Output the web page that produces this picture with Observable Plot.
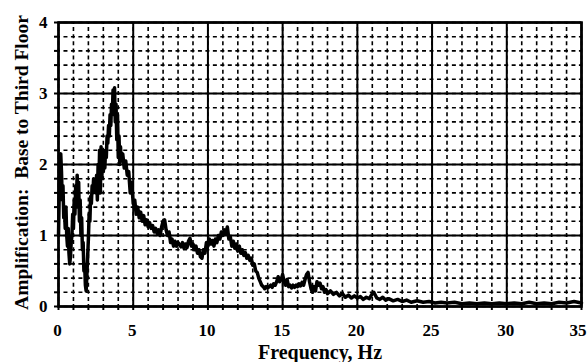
<!DOCTYPE html>
<html><head><meta charset="utf-8">
<script src="https://cdn.jsdelivr.net/npm/d3@7"></script>
<script src="https://cdn.jsdelivr.net/npm/@observablehq/plot@0.6"></script>
<style>body{margin:0;background:#fff} svg{display:block}</style>
</head><body><div id="chart"></div>
<script>
const freq = [0.0,0.05,0.1,0.15,0.2,0.25,0.3,0.35,0.4,0.45,0.5,0.55,0.6,0.65,0.7,0.75,0.8,0.85,0.9,0.95,
1.0,1.05,1.1,1.15,1.2,1.25,1.3,1.35,1.4,1.45,1.5,1.55,1.6,1.65,1.7,1.75,1.8,1.85,1.9,1.95,
2.0,2.05,2.1,2.15,2.2,2.25,2.3,2.35,2.4,2.45,2.5,2.55,2.6,2.65,2.7,2.75,2.8,2.85,2.9,2.95,
3.0,3.05,3.1,3.15,3.2,3.25,3.3,3.35,3.4,3.45,3.5,3.55,3.6,3.65,3.7,3.75,3.8,3.85,3.9,3.95,
4.0,4.05,4.1,4.15,4.2,4.3,4.4,4.5,4.6,4.7,4.8,4.9,5.0,5.1,5.2,5.3,5.4,5.5,5.6,5.7,5.8,5.9,
6.0,6.1,6.2,6.3,6.4,6.5,6.6,6.7,6.8,6.9,7.0,7.1,7.2,7.3,7.4,7.5,7.6,7.7,7.8,7.9,
8.0,8.2,8.3,8.4,8.5,8.6,8.7,8.8,8.9,9.0,9.1,9.2,9.3,9.4,9.5,9.6,9.7,9.8,9.9,
10.0,10.1,10.2,10.3,10.4,10.5,10.6,10.7,10.8,10.9,11.0,11.1,11.2,11.3,11.4,11.5,11.6,11.7,11.8,11.9,
12.0,12.1,12.2,12.3,12.4,12.5,12.6,12.7,12.8,12.9,13.0,13.1,13.2,13.3,13.4,13.5,13.6,13.7,13.8,13.9,
14.0,14.2,14.3,14.4,14.5,14.6,14.7,14.8,14.9,15.0,15.1,15.2,15.3,15.4,15.5,15.6,15.7,15.8,15.9,
16.0,16.1,16.2,16.3,16.4,16.5,16.6,16.7,16.8,16.9,17.0,17.1,17.2,17.3,17.4,17.5,17.6,17.7,17.8,17.9,
18.0,18.2,18.4,18.6,18.8,19.0,19.2,19.4,19.6,19.8,20.0,20.2,20.4,20.6,20.8,21.0,21.1,21.3,21.5,21.7,21.9,
22.1,22.4,22.7,23.0,23.3,23.6,24.0,24.4,24.8,25.2,25.6,26.0,26.5,27.0,27.5,28.0,28.5,29.0,29.5,
30.0,30.5,31.0,31.5,32.0,32.5,33.0,33.5,34.0,34.5,35.0];
const amp = [1.0,1.6,2.1,2.15,1.9,1.5,1.7,1.25,1.35,1.1,1.4,1.0,0.85,1.1,0.75,0.6,0.7,0.9,1.0,1.3,
1.1,1.5,1.3,1.7,1.55,1.85,1.4,1.75,1.2,1.5,1.0,1.25,0.8,0.9,0.5,0.6,0.3,0.22,0.45,0.7,
0.95,1.3,1.2,1.55,1.45,1.7,1.6,1.8,1.65,1.75,1.6,1.85,1.5,2.0,1.7,2.2,1.6,2.25,1.8,2.2,
1.9,2.1,1.95,2.2,2.1,2.4,2.3,2.55,2.4,2.7,2.55,2.85,2.7,3.05,2.9,3.08,2.6,2.85,2.35,2.7,
2.1,2.4,2.0,2.25,2.05,2.15,1.95,2.05,1.85,1.9,1.6,1.75,1.45,1.5,1.3,1.4,1.25,1.33,1.2,1.28,1.15,1.22,
1.12,1.18,1.1,1.14,1.05,1.1,1.03,1.08,1.0,1.12,1.2,1.22,1.08,1.0,1.05,0.9,0.95,0.85,0.92,0.85,
0.9,0.84,0.9,0.82,0.88,0.83,0.92,0.96,0.85,0.88,0.8,0.85,0.75,0.8,0.7,0.68,0.8,0.75,0.9,
0.85,0.95,0.88,0.93,0.85,0.95,0.9,1.0,0.95,1.05,1.0,1.08,1.02,1.12,0.95,0.98,0.85,0.92,0.82,0.88,
0.78,0.85,0.75,0.8,0.72,0.76,0.68,0.72,0.65,0.68,0.58,0.6,0.5,0.48,0.4,0.35,0.3,0.28,0.25,0.28,
0.26,0.3,0.27,0.32,0.3,0.35,0.42,0.35,0.38,0.45,0.35,0.3,0.38,0.28,0.3,0.26,0.3,0.27,0.3,
0.28,0.32,0.29,0.34,0.3,0.38,0.45,0.48,0.35,0.25,0.2,0.28,0.22,0.35,0.3,0.33,0.25,0.28,0.2,0.24,
0.18,0.22,0.17,0.2,0.15,0.18,0.13,0.16,0.12,0.15,0.12,0.14,0.1,0.13,0.11,0.18,0.2,0.12,0.1,0.13,0.09,
0.11,0.08,0.1,0.07,0.09,0.06,0.08,0.06,0.07,0.05,0.06,0.05,0.06,0.04,0.05,0.04,0.05,0.04,0.05,
0.04,0.05,0.04,0.06,0.04,0.05,0.04,0.06,0.05,0.07,0.05];

const xMajorTicks = [0, 5, 10, 15, 20, 25, 30, 35];
const xMinorTicks = [0,1,2,3,4,5,6,7,8,9,10,11,12,13,14,15,16,17,18,19,20,21,22,23,24,25,26,27,28,29,30,31,32,33,34,35];
const yMajorTicks = [0, 1, 2, 3, 4];
const yMinorTicks = [0,0.2,0.4,0.6,0.8,1,1.2,1.4,1.6,1.8,2,2.2,2.4,2.6,2.8,3,3.2,3.4,3.6,3.8,4];

const xLabel = "Frequency, Hz";
const yLabel = "Amplification:\u00a0\u00a0Base to Third Floor";

const data = freq.map((f, i) => ({f, a: amp[i]}));

const W = 588, H = 362, ML = 58, MR = 7, MT = 22, MB = 56;
const cellX = (W - ML - MR) / 35 / 2;
const cellY = (H - MT - MB) / 4 * 0.2 / 2;
const font = "'Liberation Serif', 'Times New Roman', serif";
const fmt = d => String(d);

const chart = Plot.plot({
  width: W, height: H,
  marginLeft: ML, marginRight: MR, marginTop: MT, marginBottom: MB,
  style: {background: "#fff", fontFamily: font, color: "#000"},
  x: {domain: [0, 35], axis: null},
  y: {domain: [0, 4], axis: null},
  marks: [
    Plot.ruleX(xMinorTicks, {stroke: "#000", strokeWidth: 1.6, strokeDasharray: `4,${(cellY - 4).toFixed(2)}`, strokeDashoffset: 2}),
    Plot.ruleY(yMinorTicks, {stroke: "#000", strokeWidth: 1.6, strokeDasharray: `4,${(cellX - 4).toFixed(2)}`, strokeDashoffset: 2}),
    Plot.ruleX(xMajorTicks, {stroke: "#000", strokeWidth: 2}),
    Plot.ruleY(yMajorTicks, {stroke: "#000", strokeWidth: 2}),
    Plot.axisX(xMinorTicks, {tickSize: 4, tickFormat: () => "", strokeWidth: 2, label: null}),
    Plot.axisY(yMinorTicks, {tickSize: 4, tickFormat: () => "", strokeWidth: 2, label: null}),
    Plot.axisX(xMajorTicks.slice(0, -1), {tickSize: 0, tickPadding: 17, dx: -1, fontSize: 17, fontWeight: "bold", tickFormat: fmt, label: null}),
    Plot.axisX(xMajorTicks.slice(-1), {tickSize: 0, tickPadding: 17, dx: -3.5, fontSize: 17, fontWeight: "bold", tickFormat: fmt, label: null}),
    Plot.axisY(yMajorTicks, {tickSize: 0, tickPadding: 11, fontSize: 17, fontWeight: "bold", tickFormat: fmt, label: null}),
    Plot.frame({stroke: "#000", strokeWidth: 2.6}),
    Plot.line(data, {x: "f", y: "a", stroke: "#000", strokeWidth: 3.5, strokeLinejoin: "round", strokeLinecap: "round"}),
    Plot.text([xLabel], {frameAnchor: "bottom", dy: 46, lineAnchor: "middle", fontSize: 20, fontWeight: "bold", fill: "#000"}),
    Plot.text([yLabel], {frameAnchor: "left", dx: -37, dy: -2, rotate: -90, lineAnchor: "middle", textAnchor: "middle", fontSize: 19.5, fontWeight: "bold", fill: "#000"})
  ]
});
document.getElementById("chart").appendChild(chart);
</script>
</body></html>
